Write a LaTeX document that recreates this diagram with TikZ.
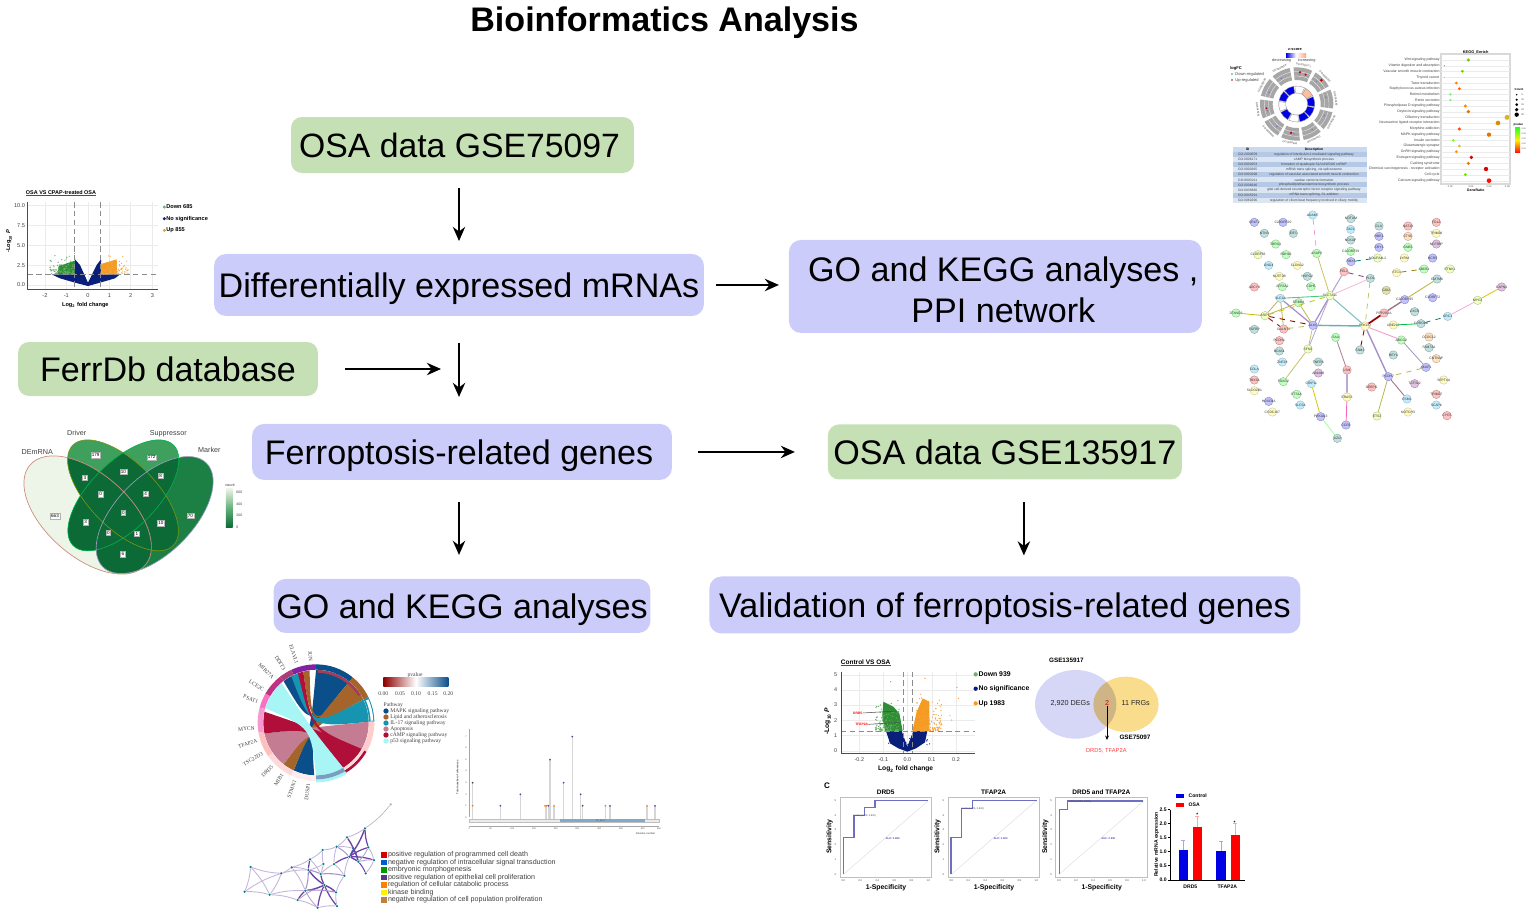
\documentclass[tikz,border=0pt]{standalone}
\usepackage{fontspec}
\setmainfont{Liberation Sans}
\newfontfamily\chordfont{Liberation Serif}
\usepackage{tikz}
\usetikzlibrary{arrows.meta, positioning, calc}

\definecolor{boxgreen}{HTML}{C5E0B4}
\definecolor{boxpurple}{HTML}{CCCCFA}
\definecolor{volgreen}{HTML}{2F8F34}
\definecolor{volblue}{HTML}{0A1F7A}
\definecolor{volorange}{HTML}{F59A23}
\definecolor{mapkblue}{HTML}{0B4F8A}
\definecolor{lipidbrown}{HTML}{A5642A}
\definecolor{iltealc}{HTML}{1794AF}
\definecolor{apoprose}{HTML}{C47C92}
\definecolor{camp}{HTML}{B00F3A}
\definecolor{pcyan}{HTML}{A8F5F5}
\definecolor{vennlight}{HTML}{EDF5E8}
\definecolor{vennmid}{HTML}{3F9F5C}
\definecolor{vennmark}{HTML}{1C8045}
\definecolor{venndark}{HTML}{0C6A37}
\definecolor{netpurple}{HTML}{6A45A8}
\definecolor{tabdark}{HTML}{B4C9E6}
\definecolor{tablight}{HTML}{DCE6F3}
\definecolor{rocline}{HTML}{6F6FC0}
\definecolor{degpurple}{HTML}{D6D6F6}
\definecolor{frgyellow}{HTML}{F9DC8C}
\definecolor{bothtan}{HTML}{CFB585}

\newcommand{\fsz}[1]{\fontsize{#1}{#1}\selectfont}
\newcommand{\scatterdots}[6]{%
    \foreach \n in {1,...,#6}{%
        \pgfmathsetmacro\dotx{#2+rnd*(#3-#2)}%
        \pgfmathsetmacro\doty{#5-rnd*rnd*(#5-#4)}%
        \fill[#1] (\dotx,\doty) circle[radius=2];
    }}
\newcommand{\ringseg}[5]{\path[#1] (#4:#2) arc[start angle=#4,end angle=#5,radius=#2] -- (#5:#3) arc[start angle=#5,end angle=#4,radius=#3] -- cycle;}
\newcommand{\ribbon}[5]{\fill[#1] (#2:158) arc[start angle=#2,end angle=#3,radius=158] .. controls (-15,-15) .. (#4:158) arc[start angle=#4,end angle=#5,radius=158] .. controls (-15,-15) .. (#2:158) -- cycle;}
\newcommand{\overlapfill}[2]{\begin{scope}\clip #1;\fill[venndark] #2;\end{scope}}
\newcommand{\rocplot}[7]{%
    \begin{scope}[cropat={#1}{775}]
        \draw[black!25, line width=0.5pt] (90,68) rectangle (365,307);
        \draw[black!12, line width=0.3pt] (100,298) -- (355,77);
        \draw[rocline, line width=0.65pt] plot coordinates {#3};
        \node[plottext, font=\fsz{3.7}\bfseries, text=black] (#2title) at (227,52) {#2};
        \node[plottext, font=\fsz{3.9}\bfseries, text=black] (#2xlab) at (228,338) {1-Specificity};
        \node[plottext, font=\fsz{3.9}\bfseries, text=black, rotate=90] (#2ylab) at (59,185) {Sensitivity};
        \node[plottext, font=\fsz{1.5}, text=blue!60!black] (#2auc) at (248,190) {#4};
        \node[plottext, font=\fsz{1.4}, anchor=west] (#2note) at (#5,#6) {#7};
        \foreach \tick/\tx [count=\i] in {0.0/100,0.2/151,0.4/202,0.6/253,0.8/304,1.0/355}{
            \node[plottext, font=\fsz{1.5}] (#2tx\i) at (\tx,318) {\tick};
        }
        \foreach \tick/\ty [count=\i] in {0/298,1/254,2/209,3/165,4/121,5/76}{
            \node[plottext, font=\fsz{1.5}] (#2ty\i) at (76,\ty) {\tick};
        }
    \end{scope}}

\begin{document}
\begin{tikzpicture}[
    x=0.02cm, y=-0.02cm,
    flowbox/.style={rectangle, inner sep=0pt, outer sep=0pt, align=center, font=\fontsize{19.4}{23.4}\selectfont},
    oneline/.style={text height=14pt, text depth=0pt},
    greenbox/.style={flowbox, fill=boxgreen, rounded corners=0.22cm},
    purplebox/.style={flowbox, fill=boxpurple, rounded corners=0.24cm},
    arrow/.style={->, line width=1.3pt, >={Stealth[length=8pt,width=7pt]}},
    cropat/.style 2 args={shift={(#1,#2)}, scale=1/3},
    plottext/.style={inner sep=0pt, text=black!75},
    ppinode/.style={circle, inner sep=0pt, minimum size=0.17cm, line width=0.2pt},
    countbox/.style={rectangle, fill=white, draw=black!30, line width=0.2pt, inner sep=0.6pt, font=\fsz{2.6}}
]
    \useasboundingbox (0,0) rectangle (1535,917);
    \pgfmathsetseed{11}

    % Title
    \node[inner sep=0pt, oneline, font=\fsz{19.4}\bfseries] (title) at (664.5,19) {Bioinformatics Analysis};

    % Flow boxes
    \node[greenbox, oneline, font=\fsz{19.2}, minimum width=6.86cm, minimum height=1.12cm] (osaA) at (462.5,145) {\hspace*{-3.4pt}OSA data GSE75097};
    \node[purplebox, oneline, minimum width=9.8cm, minimum height=1.24cm, below=1.62cm of osaA, xshift=-0.07cm] (deg) {Differentially expressed mRNAs};
    \node[purplebox, minimum width=8.26cm, minimum height=1.86cm, right=1.7cm of deg, yshift=-0.03cm] (goppi) {\rule{0pt}{18pt}\hspace*{9pt}GO and KEGG analyses ,\\\hspace*{9pt}PPI network};
    \node[greenbox, oneline, minimum width=6cm, minimum height=1.08cm] (ferrdb) at (168,369) {FerrDb database};
    \node[purplebox, oneline, minimum width=8.4cm, minimum height=1.12cm, below=2.16cm of deg, xshift=0.06cm] (ferro) {\hspace*{-3.4pt}Ferroptosis-related genes};
    \node[greenbox, oneline, minimum width=7.08cm, minimum height=1.1cm, right=3.12cm of ferro] (osaB) {OSA data GSE135917};
    \node[purplebox, oneline, minimum width=7.54cm, minimum height=1.08cm, below=1.98cm of ferro] (gokegg) {GO and KEGG analyses};
    \node[purplebox, oneline, minimum width=11.82cm, minimum height=1.14cm, below=1.94cm of osaB] (valid) {Validation of ferroptosis-related genes};
    \coordinate (ferrtip) at (441,369);

    % Arrows
    \draw[arrow, shorten <=0.3cm, shorten >=0.26cm] (osaA.south -| deg.south) -- (deg.north);
    \draw[arrow, shorten <=0.24cm, shorten >=0.2cm] (deg.east) -- (deg.east -| goppi.west);
    \draw[arrow, shorten <=0.54cm] (ferrdb.east) -- (ferrtip);
    \draw[arrow, shorten <=0.54cm, shorten >=0.54cm] (deg.south) -- (deg.south |- ferro.north);
    \draw[arrow, shorten <=0.52cm, shorten >=0.66cm] (ferro.east) -- (osaB.west);
    \draw[arrow, shorten <=0.44cm, shorten >=0.48cm] ([xshift=-0.06cm]ferro.south) -- ([xshift=-0.06cm]gokegg.north);
    \draw[arrow, shorten <=0.46cm, shorten >=0.42cm] ([xshift=0.38cm]osaB.south) -- ([xshift=0.38cm]valid.north);

    % Volcano plot, GSE75097
    \begin{scope}[cropat={0}{170}]
        \foreach \gx in {135,199,264,328,392,457} \draw[black!8, line width=0.2pt] (\gx,97) -- (\gx,357);
        \foreach \gy in {107,167,227,286,345} \draw[black!8, line width=0.2pt] (83,\gy) -- (475,\gy);
        \fill[volblue] (264,348) -- (225,338) -- (180,325) -- (155,313) -- (225,313) -- (225,268) -- (240,285) -- (264,338) -- (290,285) -- (303,268) -- (303,313) -- (360,313) -- (345,325) -- (300,338) -- cycle;
        \fill[volgreen] (172,313) -- (176,288) -- (225,272) -- (225,313) -- cycle;
        \fill[volorange] (303,313) -- (303,282) -- (350,268) -- (352,313) -- cycle;
        \scatterdots{volgreen!70}{150}{225}{245}{312}{90}
        \scatterdots{volorange!85}{303}{385}{248}{312}{90}
        \draw[black!45, densely dashed, line width=0.2pt] (224,97) -- (224,357) (300,97) -- (300,357) (83,314) -- (475,314);
        \draw[black!70, line width=0.4pt] (83,97) -- (83,357) -- (475,357);
        \node[plottext, font=\fsz{3.1}\bfseries, text=black] (volAtitle) at (183,67) {OSA VS CPAP-treated OSA};
        \draw[black!70, line width=0.2pt] (volAtitle.south west) -- (volAtitle.south east);
        \foreach \tick/\tx [count=\i] in {-2/135,-1/199,0/264,1/328,2/392,3/457}{
            \node[plottext, font=\fsz{3.2}] (volAx\i) at (\tx,376) {\tick};
        }
        \foreach \tick/\ty [count=\i] in {0.0/345,2.5/286,5.0/227,7.5/167,10.0/107}{
            \node[plottext, font=\fsz{3.2}, anchor=east] (volAy\i) at (76,\ty) {\tick};
        }
        \node[plottext, font=\fsz{3.2}\bfseries, text=black] (volAxlab) at (256,405) {Log\textsubscript{2} fold change};
        \node[plottext, font=\fsz{3.2}\bfseries, text=black, rotate=90] (volAylab) at (27,213) {-Log\textsubscript{10} \textit{P}};
        \foreach \lab/\ly/\lcol [count=\i] in {Down 685/111/volgreen!70,No significance/146/volblue,Up 855/181/volorange}{
            \fill[\lcol] (493,\ly) circle[radius=5];
            \node[plottext, font=\fsz{3.2}\bfseries, text=black, anchor=west] (volAleg\i) at (498,\ly) {\lab};
        }
    \end{scope}

    % GO circle plot
    \begin{scope}[cropat={1296.67}{104}, yscale=-1]
        \foreach \a/\goid/\incol [count=\i, evaluate=\a as \rot using {sin(\a)>=0 ? \a-90 : \a+90}] in
            {116/GO:2000659/blue!90!black, 80/GO:0006171/white, 44/GO:0000353/red!30!orange!40, 8/GO:0000365/blue!90!black, -28/GO:0003298/blue!90!black,
             -64/GO:0003211/blue!90!black, -100/GO:0006646/white, -136/GO:0035860/blue!90!black, -172/GO:0045291/white, 152/GO:0060296/blue!90!black}{
            \ringseg{fill=black!35}{110}{72}{\a-15}{\a+15}
            \draw[white, line width=0.15pt] (\a-15:84) arc[start angle=\a-15,end angle=\a+15,radius=84];
            \draw[white, line width=0.15pt] (\a-15:97) arc[start angle=\a-15,end angle=\a+15,radius=97];
            \ringseg{fill=\incol, draw=black!45, line width=0.2pt}{54}{33}{\a-16}{\a+16}
            \fill[blue!60] (\a+5:90) circle[radius=2.2];
            \node[plottext, font=\fsz{1.5}, rotate=\rot] (goring\i) at (\a:118) {\goid};
        }
        \fill[red!75!black] (84:96) circle[radius=3.5] (73:92) circle[radius=3.5] (44:103) circle[radius=4.5] (-101:88) circle[radius=4] (-172:92) circle[radius=3];
    \end{scope}
    \begin{scope}[cropat={1220}{30}]
        \node[plottext, font=\fsz{2.2}\bfseries, text=black] (zscore) at (225,58) {z-score};
        \shade[left color=blue!90!black, right color=red!40!orange!50, middle color=white] (198,70) rectangle (258,81);
        \node[plottext, font=\fsz{2.2}] (zdec) at (185,90) {decreasing};
        \node[plottext, font=\fsz{2.2}] (zinc) at (260,90) {increasing};
        \node[plottext, font=\fsz{2.3}\bfseries, text=black, anchor=west] (logfc) at (30,114) {logFC};
        \fill[teal!70!cyan] (36,132) circle[radius=2.5];
        \fill[red!80!black] (36,150) circle[radius=2.5];
        \node[plottext, font=\fsz{2.3}, anchor=west] (fcdown) at (45,132) {Down-regulated};
        \node[plottext, font=\fsz{2.3}, anchor=west] (fcup) at (45,150) {Up-regulated};

        % GO table
        \fill[tabdark!70!white] (40,350) rectangle (440,366);
        \node[plottext, font=\fsz{1.9}\bfseries, text=black] (tabid) at (83,358) {ID};
        \node[plottext, font=\fsz{1.9}\bfseries, text=black] (tabdesc) at (282,358) {Description};
        \foreach \goid/\desc [count=\i, evaluate=\i as \rowy using {366+15.2*(\i-1)}] in
            {GO:2000659/{regulation of interleukin-1-mediated signaling pathway},
             GO:0006171/{cAMP biosynthetic process},
             GO:0000353/{formation of quadruple SL/U4/U5/U6 snRNP},
             GO:0000365/{mRNA trans splicing, via spliceosome},
             GO:0003298/{regulation of vascular associated smooth muscle contraction},
             GO:0003211/{cardiac ventricle formation},
             GO:0006646/{phosphatidylethanolamine biosynthetic process},
             GO:0035860/{glial cell-derived neurotrophic factor receptor signaling pathway},
             GO:0045291/{mRNA trans splicing, SL addition},
             GO:0060296/{regulation of cilium beat frequency involved in ciliary motility}}{
            \pgfmathparse{isodd(\i) ? "tabdark" : "tablight"}
            \edef\rowcol{\pgfmathresult}
            \fill[\rowcol] (40,\rowy) rectangle (440,\rowy+15.2);
            \node[plottext, font=\fsz{1.9}] (tabi\i) at (83,\rowy+7.6) {\goid};
            \node[plottext, font=\fsz{1.9}] (tabd\i) at (282,\rowy+7.6) {\desc};
        }

        % KEGG dot plot
        \draw[black!15, line width=0.6pt] (663,72) rectangle (870,462);
        \node[plottext, font=\fsz{2.2}\bfseries, text=black] (keggtitle) at (767,66) {KEGG\_Enrich};
        \foreach \lab/\kx/\ky/\kr/\kcol [count=\i] in
            {Wnt signaling pathway/745/90/5/green!45!yellow!80!black,
             Vitamin digestion and absorption/673/107/1.5/red!70!orange,
             Vascular smooth muscle contraction/727/124/4.5/green!45!yellow!80!black,
             Thyroid cancer/673/142/1.5/green!70!white,
             Taste transduction/709/159/4.5/orange,
             Staphylococcus aureus infection/718/176/4.5/orange!70!red,
             Retinol metabolism/691/193/4/green!60!white,
             Renin secretion/691/210/4/green!60!white,
             Phospholipase D signaling pathway/736/228/5/orange!90!yellow,
             Oxytocin signaling pathway/745/245/5.5/orange!90!black,
             Olfactory transduction/861/262/7.5/yellow!60!orange!85!black,
             Neuroactive ligand-receptor interaction/834/279/7/orange!70!yellow!85!black,
             Morphine addiction/718/297/5/orange!60!red,
             MAPK signaling pathway/807/314/6.5/orange!90!black,
             Insulin secretion/700/331/4/green!60!yellow,
             Glutamatergic synapse/718/348/4.5/yellow!70!orange!85!black,
             GnRH signaling pathway/709/365/4.5/orange!90!yellow,
             Estrogen signaling pathway/754/382/5.5/red!85!black,
             Cushing syndrome/745/400/5/orange!90!black,
             Chemical carcinogenesis - receptor activation/798/417/6.5/red!90!black,
             Cell cycle/736/434/5/green!50!yellow!90!black,
             Calcium signaling pathway/807/452/7/red!90!orange}{
            \draw[black!8, line width=0.15pt] (663,\ky) -- (870,\ky);
            \fill[\kcol] (\kx,\ky) circle[radius=\kr];
            \node[plottext, font=\fsz{2}, anchor=east] (kegg\i) at (660,\ky) {\lab};
        }
        \foreach \tick/\tx [count=\i] in {0.02/691,0.04/753,0.06/807,0.08/862}{
            \node[plottext, font=\fsz{1.4}] (keggx\i) at (\tx,470) {\tick};
        }
        \node[plottext, font=\fsz{2}\bfseries, text=black] (keggxlab) at (767,481) {GeneRatio};
        \node[plottext, font=\fsz{1.7}\bfseries, text=black] (keggcount) at (897,178) {Count};
        \foreach \tick/\ty/\kr [count=\i] in {5/194/2.5,10/209/3.5,15/224/4.5,20/239/5.5,25/254/6.5}{
            \fill[black] (890,\ty) circle[radius=\kr];
            \node[plottext, font=\fsz{1.4}, anchor=west] (keggc\i) at (903,\ty) {\tick};
        }
        \node[plottext, font=\fsz{1.7}\bfseries, text=black] (keggp) at (895,285) {pvalue};
        \shade[top color=green!85!white, bottom color=red!90!orange, middle color=yellow!90!orange] (885,292) rectangle (900,368);
        \foreach \tick/\ty [count=\i] in {0.05/296,0.04/311,0.03/326,0.02/341,0.01/356}{
            \node[plottext, font=\fsz{1.2}, anchor=west] (keggpt\i) at (904,\ty) {\tick};
        }
    \end{scope}

    % PPI network
    \begin{scope}[cropat={1220}{205}]
        \foreach \nm/\px/\py/\ncol in
            {ADAM7/278/30/cyan, NOTUM/393/41/teal, TAC1/392/73/cyan, NCKAP/392/105/teal, C22ORF39/392/139/green, RBX3/393/170/blue,
             NDUFA4L2/473/159/lime, CLU/477/63/teal, HBE1/477/94/blue, CRY1/477/127/blue, NAT10/564/63/red, CTSK/564/94/orange,
             GNB3/564/127/green, LYRM/553/159/yellow, FGL2/649/52/red, TRIM28/649/85/yellow, NCF3BP/649/117/violet, BCR5/638/159/blue,
             ABCB1/612/192/green, STC1/530/203/yellow, ETNK1/690/192/lime, CMTM6/651/222/teal, CAPN1/845/246/violet, MYC2/773/286/lime,
             SRC1/683/334/cyan, CORO1A/603/356/teal, UBE2L3/520/360/yellow, CXCR/584/320/teal, C3ORF72/638/278/blue, C20ORF95/554/284/blue,
             PPP2R2A/492/324/red, PRKCQ/435/363/yellow, PLD1/451/220/teal, PEL1/372/200/red, GDI2/499/256/olive, SLC7A11/330/272/lime,
             ASAP3/290/145/green, SLC1A/181/280/cyan, ERBB4/236/293/green, ASIP1/135/332/lime, ZFAND3/48/324/green, ALK1/279/361/blue,
             GALNT6/191/372/red, FGFBP/103/373/teal, PCDH1/178/407/red, BCAS1/178/438/teal, ZNF28/187/471/cyan, SFN3/264/432/lime,
             SAA/347/397/green, FAM2/420/435/teal, ABCG2/544/405/green, HEY1/520/450/teal, CCDC12/627/396/orange, FAM72A/627/428/teal,
             CNTNAP/649/461/orange, AKAP1/618/487/blue, PCDH7/505/515/blue, TCF3L2/584/536/violet, SEPT4A/671/525/yellow, TRIM27/649/568/red,
             SCAP4/649/600/cyan, CYCS/681/632/red, ESM1/561/582/cyan, NOTCH3/564/621/yellow, ETS2/471/633/lime, CEBPG/455/546/red,
             LSM/381/495/red, ERAS3/381/576/yellow, CCR3/378/660/blue, PRKAG3/302/635/blue, AZI2/352/700/teal, CRIP11/274/536/cyan,
             ABLIM3/295/504/violet, TNFRS/295/471/teal, FOXD2/190/530/green, ETS1A/230/568/green, SLC5A/241/600/cyan, HOXC8A/146/589/blue,
             CCDC107/157/621/yellow, SLCO2B1/103/557/yellow, TBX3A/103/525/red, CDLA/103/492/cyan, CRLF2/103/52/blue, C20ORF20/189/52/blue,
             NTN3/133/85/teal, EIF1/220/85/teal, TBRG1/167/117/green, RDH16/198/149/green, C1ORF56/114/149/lime, GNG4/146/181/cyan,
             CLDN12/232/181/yellow, NUTF2B/178/214/yellow, HSPG2/262/214/teal, ATP2A2/187/245/green, CDH5/273/245/green, ADCY3/103/246/red}{
            \node[ppinode, fill=\ncol!24, draw=\ncol!50!black!50, label={[plottext, font=\fsz{1.9}, text=black!80]center:\nm}] (\nm) at (\px,\py) {};
        }
        \foreach \ea/\eb/\ecol/\esty/\ew in
            {ADAM7/ASAP3/magenta!40/dashed/0.45, ASAP3/SLC7A11/olive!50/solid/0.45, SLC7A11/PEL1/netpurple!50/solid/0.6, PEL1/PLD1/magenta!60!black/dashed/0.5,
             SLC7A11/PLD1/magenta!30/solid/0.45, PLD1/PRKCQ/olive!50/dashed/0.45, SLC7A11/PRKCQ/teal!50/solid/0.6, SLC7A11/ALK1/netpurple!60/solid/0.7,
             SLC1A/SLC7A11/green!40!teal!70/solid/0.5, SLC1A/ALK1/netpurple!60/solid/0.7, SLC1A/ASIP1/olive!60/solid/0.45, SLC1A/GALNT6/olive!60/solid/0.45,
             ERBB4/ALK1/olive!60/solid/0.45, ERBB4/ASIP1/olive!60/solid/0.45, ASIP1/ZFAND3/yellow!50!olive/solid/0.45, ASIP1/SLC7A11/yellow!50!olive/dashed/0.45,
             ASIP1/GALNT6/red!60!black/dashed/0.45, ASIP1/ALK1/red!60!black/dashed/0.5, GALNT6/ALK1/olive!60/dashed/0.45, ALK1/PRKCQ/teal!60/solid/0.8,
             ALK1/SFN3/olive!50/solid/0.45, SFN3/SLC7A11/netpurple!50/solid/0.45, SFN3/FOXD2/olive!50/solid/0.45, PRKCQ/PPP2R2A/red!60!black/solid/1,
             PPP2R2A/C20ORF95/magenta!40!black!70/solid/0.8, C20ORF95/CMTM6/olive!60/solid/0.5, PRKCQ/FAM2/red!60!black/dashed/0.5, PRKCQ/ABCG2/magenta!40/solid/0.5,
             PRKCQ/PCDH7/netpurple!60/solid/0.8, ABCG2/AKAP1/blue!30!black!40/solid/0.45, AKAP1/PCDH7/olive!60/dashed/0.45, PCDH7/ETS2/olive!60/solid/0.45,
             PCDH7/ESM1/magenta!40!black!70/solid/0.5, SAA/LSM/magenta!40!black!60/solid/0.5, LSM/ERAS3/netpurple!70/solid/0.6, ERAS3/CCR3/magenta!60/solid/0.5,
             CRIP11/PRKAG3/yellow!60!olive/solid/0.45, PRKAG3/AZI2/green!40/solid/0.45, RBX3/NDUFA4L2/teal/dashed/0.45, STC1/ABCB1/olive/dashed/0.45,
             UBE2L3/CORO1A/green!50!teal/solid/0.45, CORO1A/SRC1/teal/dashed/0.45, SRC1/MYC2/magenta!35/solid/0.45, MYC2/CAPN1/yellow!60!olive/solid/0.45}{
            \draw[\ecol, \esty, line width=\ew pt] (\ea) -- (\eb);
        }
    \end{scope}

    % Venn diagram, ferroptosis genes
    \begin{scope}[cropat={0}{420}]
        \def\ellA{(263,285) circle[x radius=229, y radius=125, rotate=-41]}
        \def\ellB{(369,226) circle[x radius=213, y radius=100, rotate=-45]}
        \def\ellC{(370,226) circle[x radius=213, y radius=100, rotate=45]}
        \def\ellD{(464,285) circle[x radius=220, y radius=115, rotate=45]}
        \fill[vennlight] \ellA;
        \fill[vennmid] \ellB;
        \fill[vennmid] \ellC;
        \fill[vennmark] \ellD;
        \overlapfill{\ellA}{\ellB}
        \overlapfill{\ellA}{\ellC}
        \overlapfill{\ellA}{\ellD}
        \overlapfill{\ellB}{\ellC}
        \overlapfill{\ellB}{\ellD}
        \overlapfill{\ellC}{\ellD}
        \draw[orange!40!red!45!gray!70, line width=0.4pt] \ellA;
        \draw[olive!70!green, line width=0.35pt] \ellB;
        \draw[teal!60!green, line width=0.35pt] \ellC;
        \draw[blue!25!gray!60, line width=0.35pt] \ellD;
        \foreach \num/\vx/\vy [count=\i] in {179/287/105,172/455/112,3/255/173,10/370/155,8/482/167,0/302/222,4/437/222,0/370/278,3/257/307,10/483/310,663/165/288,70/571/287,0/325/338,1/411/342,6/369/402}{
            \node[countbox] (vcount\i) at (\vx,\vy) {\num};
        }
        \foreach \lab/\vx/\vy [count=\i] in {DEmRNA/112/95,Driver/230/38,Suppressor/505/42,Marker/628/90}{
            \node[plottext, font=\fsz{4.1}] (vset\i) at (\vx,\vy) {\lab};
        }
        \node[plottext, font=\fsz{2.2}] (vcnt) at (690,196) {count};
        \shade[top color=vennlight, bottom color=venndark, middle color=vennmid!80] (678,205) rectangle (698,322);
        \foreach \tick/\ty [count=\i] in {600/218,400/253,200/287,0/322}{
            \node[plottext, font=\fsz{2}, anchor=west] (vtick\i) at (708,\ty) {\tick};
        }
    \end{scope}

    % Chord diagram
    \begin{scope}[cropat={316}{722.67}, yscale=-1]
        \ribbon{mapkblue}{60}{75}{115}{128}
        \ribbon{mapkblue}{245}{268}{411}{450}
        \ribbon{lipidbrown}{232}{245}{386}{411}
        \ribbon{lipidbrown}{30}{40}{97}{104}
        \ribbon{iltealc}{1}{26}{108}{118}
        \ribbon{apoprose}{192}{232}{330}{361}
        \ribbon{camp}{168}{192}{301}{330}
        \ribbon{pcyan}{131}{164}{270}{301}
        \ribbon{camp}{104}{110}{320}{330}
        \foreach \a/\b/\rcol in {90/115/netpurple!60!magenta!80!black, 115/128/magenta!65!black, 128/150/magenta!75!black, 150/165/magenta!55!white, 165/190/magenta!40!white, 190/215/red!25!white, 215/245/red!15!white, 245/270/red!7!white}{
            \ringseg{fill=\rcol}{175}{159}{\a}{\b}
        }
        \ringseg{fill=mapkblue}{175}{159}{51}{90}
        \ringseg{fill=lipidbrown}{175}{159}{26}{51}
        \ringseg{fill=iltealc}{175}{159}{1}{26}
        \ringseg{fill=red!20!white}{175}{159}{-30}{1}
        \ringseg{fill=camp}{175}{167}{-59}{-30}
        \ringseg{fill=red!15!white}{166}{158}{-59}{-30}
        \ringseg{fill=pcyan}{179}{170}{-90}{-59}
        \ringseg{fill=mapkblue!55!white}{170}{158}{-90}{-59}
        \ringseg{fill=camp!80!black!80}{158}{150}{32}{88}
        \ringseg{fill=white}{172}{164}{2}{24}
        \foreach \gene/\a [evaluate=\a as \rot using {\a-180}, count=\i] in {JUN/95,ELAVL1/108,DDIT3/121,MIR27A/134,LCE2C/148,PSAT1/160,MYCN/185,TFAP2A/197,TSC22D3/210,DRD5/225,MIB1/237,STMN1/250,DUSP1/263}{
            \node[plottext, font=\chordfont\fsz{3.1}, anchor=east, rotate=\rot] (gene\i) at (\a:184) {\gene};
        }
    \end{scope}
    \begin{scope}[cropat={230}{640}]
        \node[plottext, font=\chordfont\fsz{3.2}] (pvaltitle) at (555,105) {pvalue};
        \shade[left color=red!55!black, right color=mapkblue, middle color=white] (460,113) rectangle (655,140);
        \foreach \tick/\tx [count=\i] in {0.00/460,0.05/510,0.10/558,0.15/608,0.20/655}{
            \node[plottext, font=\chordfont\fsz{3.2}] (pvalt\i) at (\tx,160) {\tick};
        }
        \node[plottext, font=\chordfont\fsz{3.2}, anchor=west] (pwtitle) at (460,195) {Pathway};
        \foreach \lab/\ly/\lcol [count=\i] in {MAPK signaling pathway/213/mapkblue,Lipid and atherosclerosis/231/lipidbrown,IL-17 signaling pathway/249/iltealc,Apoptosis/267/apoprose,cAMP signaling pathway/285/camp,p53 signaling pathway/303/pcyan}{
            \fill[\lcol] (468,\ly) circle[radius=8];
            \node[plottext, font=\chordfont\fsz{3.2}, anchor=west] (pw\i) at (480,\ly) {\lab};
        }
    \end{scope}

    % Lollipop plot and enrichment network
    \begin{scope}[cropat={230}{720}]
        \fill[black!8] (718,297) rectangle (1287,307);
        \draw[black!25, line width=0.2pt] (718,297) rectangle (1287,307);
        \fill[blue!45!cyan!40!gray!70] (990,297) rectangle (1245,307);
        \node[plottext, font=\fsz{1.2}] (tfap) at (1112,302) {TF\_AP-2};
        \draw[black!35, line width=0.2pt] (718,27) -- (718,292) (718,318) -- (1287,318);
        \foreach \lx/\lv in {728/3,811/1,871/2,948/1,955/1,960/5,972/1,1001/3,1027/7,1052/2,1058/1,1126/1,1140/1,1251/1,1275/1}{
            \draw[black!16, line width=0.9pt] (\lx,297) -- (\lx,{292-34.6*\lv});
        }
        \foreach \lx/\lv/\lcol in {728/3/black!70,728/1/orange,811/1/blue!50!black!70,871/2/blue!50!black!70,945/1/orange,950/1/orange,955/1/blue!50!black!70,960/5/blue!50!black!70,972/1/orange,1001/3/blue!50!black!70,1027/7/blue!50!black!70,1052/2/blue!50!black!70,1058/1/black!70,1126/1/orange,1140/1/blue!50!black!70,1251/1/orange,1275/1/blue!50!black!70}{
            \fill[\lcol] (\lx,{292-34.6*\lv}) circle[radius=3];
        }
        \foreach \tick [count=\i, evaluate=\tick as \ty using {292-34.6*\tick}] in {0,...,7}{
            \node[plottext, font=\fsz{1.3}] (loly\i) at (708,\ty) {\tick};
        }
        \foreach \tick/\tx [count=\i] in {0/718,50/782,100/847,150/912,200/977,250/1042,300/1108,350/1173,400/1238,450/1287}{
            \node[plottext, font=\fsz{1.3}] (lolx\i) at (\tx,326) {\tick};
        }
        \node[plottext, font=\fsz{1.5}] (lolxlab) at (1247,340) {Residue number};
        \node[plottext, font=\fsz{1.5}\bfseries, rotate=90] (lolylab) at (682,172) {Total number of references};

        \foreach \nm/\mx/\my/\mcol in {m1/482/253/black!30,m2/405/325/teal,m3/351/352/teal,m4/320/380/teal,m5/278/390/teal,m6/240/418/teal,m7/185/442/teal,m8/154/460/teal,m9/62/441/teal,m10/44/515/teal,m11/119/524/teal,m12/203/540/teal,m13/263/563/teal,m14/321/558/teal,m15/283/495/teal,m16/226/512/teal,m17/235/450/teal,m18/272/462/teal,m19/318/517/teal,m20/343/467/teal,m21/312/432/teal,m22/370/385/teal,m23/358/410/teal,m24/385/425/teal,m25/415/382/teal,m26/432/420/teal,m27/407/460/teal,m28/280/432/teal}{
            \node[circle, fill=\mcol, inner sep=0pt, minimum size=0.05cm] (\nm) at (\mx,\my) {};
        }
        \foreach \ea/\eb/\ew/\ecol in {m1/m2/0.35/black!30,m2/m3/0.5/netpurple!40,m2/m23/0.8/netpurple,m3/m4/0.5/netpurple!40,m3/m22/0.6/netpurple!55,m4/m5/0.5/netpurple!40,m4/m23/0.6/netpurple!55,m5/m6/0.5/netpurple!40,m6/m7/0.5/netpurple!40,m7/m8/0.5/netpurple!40,m8/m9/0.5/netpurple!40,m8/m11/0.5/netpurple!40,m9/m10/0.5/netpurple!40,m9/m11/0.5/netpurple!40,m10/m11/0.5/netpurple!40,m10/m8/0.5/netpurple!40,m11/m12/0.5/netpurple!40,m11/m16/0.5/netpurple!40,m12/m16/0.7/netpurple,m12/m15/0.5/netpurple!50,m13/m16/0.5/netpurple!50,m13/m15/0.7/netpurple,m14/m15/0.7/netpurple,m14/m19/0.5/netpurple!40,m15/m16/0.8/netpurple,m15/m17/0.8/netpurple,m15/m18/0.7/netpurple,m15/m19/0.8/netpurple,m16/m19/0.6/netpurple!60,m17/m6/0.7/netpurple,m17/m18/0.6/netpurple!60,m18/m20/0.6/netpurple!60,m18/m21/0.5/netpurple!40,m19/m20/0.5/netpurple!40,m20/m23/0.5/netpurple!40,m21/m23/0.7/netpurple,m21/m4/0.5/netpurple!40,m22/m24/0.6/netpurple,m22/m23/0.7/netpurple,m23/m24/0.8/netpurple,m23/m25/0.7/netpurple,m23/m26/0.7/netpurple,m24/m27/0.6/netpurple,m24/m26/0.5/netpurple!50,m25/m2/0.7/netpurple,m25/m24/0.5/netpurple!50,m26/m27/0.5/netpurple!40,m3/m24/0.7/netpurple,m28/m5/0.5/netpurple!40,m28/m17/0.5/netpurple!40,m28/m18/0.5/netpurple!40,m7/m17/0.5/netpurple!40,m8/m17/0.5/netpurple!40,m7/m16/0.5/netpurple!40,m17/m16/0.6/netpurple!60,m6/m18/0.5/netpurple!40,m21/m20/0.5/netpurple!40,m4/m22/0.5/netpurple!40,m25/m26/0.5/netpurple!40,m12/m13/0.5/netpurple!40,m13/m14/0.5/netpurple!40}{
            \draw[\ecol, line width=\ew pt] (\ea) to[bend left=8] (\eb);
        }
        \foreach \lab/\ly/\lcol [count=\i] in {positive regulation of programmed cell death/405/red!85!black,negative regulation of intracellular signal transduction/428/blue!55!cyan!80!black,embryonic morphogenesis/450/green!60!black,positive regulation of epithelial cell proliferation/472/netpurple!80!black,regulation of cellular catabolic process/495/orange,kinase binding/518/yellow,negative regulation of cell population proliferation/540/brown}{
            \fill[\lcol] (454,\ly-8) rectangle (470,\ly+8);
            \node[plottext, font=\fsz{4.05}, anchor=west] (enr\i) at (473,\ly) {\lab};
        }
    \end{scope}

    % Volcano plot and Venn diagram, GSE135917
    \begin{scope}[cropat={810}{645}]
        \foreach \gx in {148,220,292,365,438} \draw[black!8, line width=0.2pt] (\gx,80) -- (\gx,325);
        \foreach \gy in {317,271,226,180,135,89} \draw[black!8, line width=0.2pt] (93,\gy) -- (495,\gy);
        \fill[volblue] (292,320) -- (265,310) -- (240,295) -- (228,258) -- (275,258) -- (292,305) -- (310,258) -- (352,258) -- (345,292) -- (318,310) -- cycle;
        \scatterdots{volblue}{228}{360}{258}{300}{30}
        \fill[volgreen] (278,258) -- (225,258) -- (217,215) -- (220,170) -- (250,185) -- (268,205) -- cycle;
        \scatterdots{volgreen!75}{195}{268}{155}{258}{130}
        \fill[volorange] (307,258) -- (320,200) -- (338,160) -- (358,170) -- (358,258) -- cycle;
        \scatterdots{volorange!90}{320}{395}{140}{258}{130}
        \fill[volgreen!70] (242,110) circle[radius=2];
        \fill[volorange] (345,100) circle[radius=2] (441,127) circle[radius=2] (445,160) circle[radius=2] (420,212) circle[radius=2] (425,225) circle[radius=2];
        \draw[black!45, densely dashed, line width=0.2pt] (278,80) -- (278,325) (307,80) -- (307,325) (93,258) -- (495,258);
        \draw[black!70, line width=0.4pt] (93,80) -- (93,325) -- (495,325);
        \node[plottext, font=\fsz{1.9}\bfseries, text=red] (volDRD) at (143,204) {DRD5};
        \node[plottext, font=\fsz{1.9}\bfseries, text=red] (volTF) at (155,238) {TFAP2A};
        \coordinate (volDRDend) at (258,198);
        \coordinate (volTFend) at (270,232);
        \draw[black!70, line width=0.3pt] (volDRD.east) -- (volDRDend);
        \draw[black!70, line width=0.3pt] (volTF.east) -- (volTFend);
        \node[plottext, font=\fsz{3.7}\bfseries, text=black] (volBtitle) at (167,51) {Control VS OSA};
        \draw[black!70, line width=0.25pt] (volBtitle.south west) -- (volBtitle.south east);
        \foreach \tick/\tx [count=\i] in {-0.2/148,-0.1/220,0.0/292,0.1/365,0.2/438}{
            \node[plottext, font=\fsz{3.1}] (volBx\i) at (\tx,345) {\tick};
        }
        \foreach \tick/\ty [count=\i] in {0/317,1/271,2/226,3/180,4/135,5/89}{
            \node[plottext, font=\fsz{3.1}] (volBy\i) at (77,\ty) {\tick};
        }
        \node[plottext, font=\fsz{3.8}\bfseries, text=black] (volBxlab) at (287,373) {Log\textsubscript{2} fold change};
        \node[plottext, font=\fsz{3.8}\bfseries, text=black, rotate=90] (volBylab) at (53,228) {-Log\textsubscript{10} \textit{P}};
        \foreach \lab/\ly/\lcol [count=\i] in {Down 939/88/volgreen!70,No significance/131/volblue,Up 1983/175/volorange}{
            \fill[\lcol] (497,\ly) circle[radius=6.5];
            \node[plottext, font=\fsz{3.9}\bfseries, text=black, anchor=west] (volBleg\i) at (505,\ly) {\lab};
        }

        \fill[degpurple] (797,178) circle[x radius=122, y radius=103];
        \fill[frgyellow] (948,178) circle[x radius=98, y radius=83];
        \begin{scope}
            \clip (797,178) circle[x radius=122, y radius=103];
            \fill[bothtan] (948,178) circle[x radius=98, y radius=83];
        \end{scope}
        \node[plottext, font=\fsz{3.6}\bfseries, text=black] (vdA) at (769,46) {GSE135917};
        \node[plottext, font=\fsz{4.1}, text=black!85] (vdDeg) at (781,174) {2,920 DEGs};
        \node[plottext, font=\fsz{4.1}, text=red!85!black] (vdTwo) at (891,174) {2};
        \node[plottext, font=\fsz{4.1}, text=black!85] (vdFrg) at (977,174) {11 FRGs};
        \node[plottext, font=\fsz{3.6}\bfseries, text=black] (vdB) at (975,277) {GSE75097};
        \node[plottext, font=\fsz{3.3}, text=red!75!white] (vdGenes) at (889,317) {DRD5, TFAP2A};
        \draw[-{Stealth[length=2.5pt,width=2.2pt]}, line width=0.4pt, shorten >=0.16cm] (vdTwo.south) -- (vdTwo.south |- vdGenes.north);
    \end{scope}

    % ROC curves
    \node[inner sep=0pt, font=\fsz{4.6}\bfseries] (panelC) at (827,785.7) {C};
    \rocplot{810}{DRD5}{(100,298) (100,187) (132,187) (132,121) (163,121) (163,98) (195,98) (195,76) (355,76)}{AUC: 0.889}{130}{124}{0.500 (0.875, 0.800)}
    \rocplot{918}{TFAP2A}{(99,298) (99,187) (131,187) (131,100) (163,100) (163,77) (356,77)}{AUC: 0.900}{130}{103}{0.500 (0.875, 0.800)}
    \rocplot{1025.7}{DRD5 and TFAP2A}{(101,298) (101,103) (126,103) (126,78) (353,78)}{AUC: 0.956}{128}{81}{0.500 (0.900, 1.000)}

    % Bar chart
    \begin{scope}[cropat={810}{775}]
        \fill[blue!90!black] (1098,57) rectangle (1122,69);
        \fill[red] (1098,85) rectangle (1122,97);
        \node[plottext, font=\fsz{2.9}\bfseries, text=black, anchor=west] (barctl) at (1135,62) {Control};
        \node[plottext, font=\fsz{2.9}\bfseries, text=black, anchor=west] (barosa) at (1135,90) {OSA};
        \foreach \bl/\btop/\berr/\bcol in {1106/226/195/blue!90!black,1148/155/125/red,1219/227/200/blue!90!black,1262/180/145/red}{
            \draw[\bcol!35, line width=0.35pt] (\bl+14,\btop) -- (\bl+14,\berr) (\bl+8,\berr) -- (\bl+20,\berr);
            \fill[\bcol] (\bl,315) rectangle (\bl+28,\btop);
        }
        \draw[black, line width=0.5pt] (1080,104) -- (1080,315) -- (1305,315);
        \foreach \tick/\ty [count=\i] in {0.0/315,0.5/272,1.0/230,1.5/188,2.0/146,2.5/104}{
            \draw[black, line width=0.4pt] (1073,\ty) -- (1080,\ty);
            \node[plottext, font=\fsz{2.9}\bfseries, text=black, anchor=east] (bary\i) at (1071,\ty) {\tick};
        }
        \node[plottext, font=\fsz{2.8}\bfseries, text=black] (barsA) at (1162,118) {*};
        \node[plottext, font=\fsz{2.8}\bfseries, text=black] (barsB) at (1274,142) {*};
        \node[plottext, font=\fsz{2.9}\bfseries, text=black] (barxA) at (1141,335) {DRD5};
        \node[plottext, font=\fsz{2.9}\bfseries, text=black] (barxB) at (1252,335) {TFAP2A};
        \node[plottext, font=\fsz{2.9}\bfseries, text=black, rotate=90] (barylab) at (1040,208) {Relative mRNA expression};
    \end{scope}

\end{tikzpicture}
\end{document}
